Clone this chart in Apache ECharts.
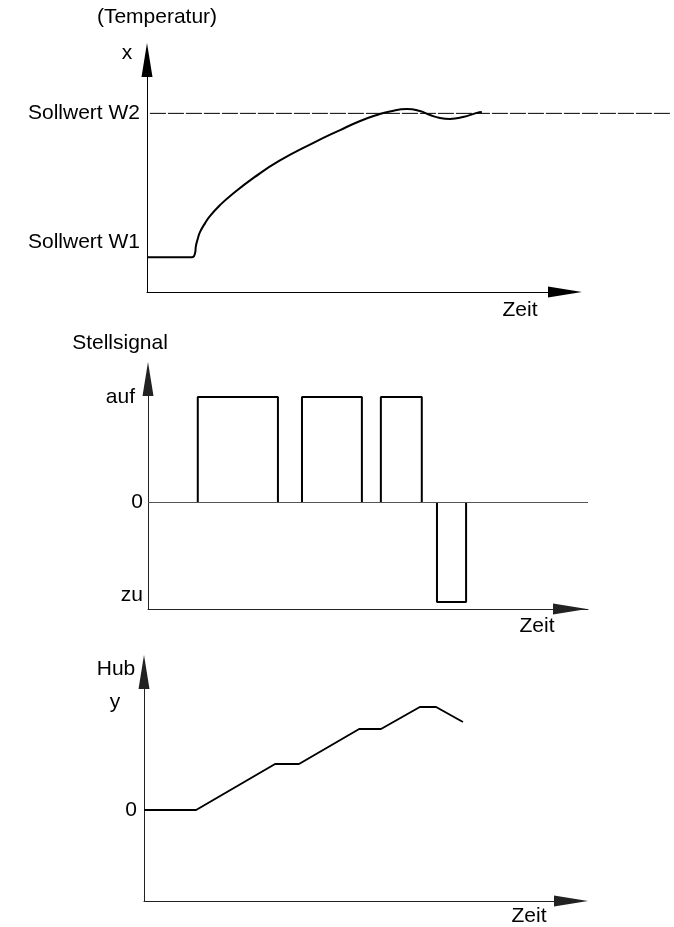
<!DOCTYPE html>
<html><head><meta charset="utf-8">
<script src="https://cdn.jsdelivr.net/npm/echarts@6/dist/echarts.min.js"></script>
<style>html,body{margin:0;padding:0;background:#fff}#c{width:674px;height:927px}</style>
</head><body><div id="c"></div>
<script>
// ---- Panel 1: Temperatur x ----
const W1 = 15, W2 = 77;
const tempTime  = [0, 10.3, 11.0, 11.5, 11.7, 12.2, 12.7, 13.9, 15.1, 17.5, 19.9, 25.8, 31.6, 39.7, 46.2, 51.0, 55.0, 58.1, 62.2, 65.3, 67.7, 70.1, 72.5, 75.6, 78.9, 80.1];
const tempValue = [15, 15, 15.1, 16.8, 19.8, 23.3, 25.9, 29.7, 32.8, 37.5, 41.4, 49.6, 56.5, 64.2, 69.8, 73.7, 76.3, 77.8, 78.9, 78.0, 76.3, 75.0, 74.6, 75.4, 77.2, 77.6];
const w2LineTime = [0.7, 125.1];
const tempLabels = ['Sollwert W1', 'Sollwert W2'];

// ---- Panel 2: Stellsignal ----
const AUF = 1.05, ZU = -1.0;
const pulseStart = [11.8, 36.5, 55.2, 68.5];
const pulseEnd   = [30.8, 50.7, 64.9, 75.4];
const pulseLevel = [AUF, AUF, AUF, ZU];
const signalLabels = ['zu', '0', 'auf'];

// ---- Panel 3: Hub y ----
const hubTime  = [0, 12.2, 30.7, 36.3, 50.4, 55.5, 64.6, 68.4, 74.7];
const hubValue = [0, 0, 4.6, 4.6, 8.1, 8.1, 10.3, 10.3, 8.8];
const hubLabels = ['0'];

const FONT = 'Liberation Sans, Arial, sans-serif';
const FS = 21;
const zip = (a, b) => a.map((v, i) => [v, b[i]]);

function xAx(grid, max, color, show, endOffset) {
  return {
    type: 'value', gridIndex: grid, min: 0, max: max,
    axisLine: { show: show, onZero: false, symbol: ['none', 'triangle'], symbolSize: [11, 34],
      symbolOffset: [0, endOffset || 0], lineStyle: { color: color, width: 1 } },
    axisTick: { show: false }, axisLabel: { show: false }, splitLine: { show: false }
  };
}
function yAx(grid, min, max, color, show, labelVals, labelTexts, rich, margin) {
  return {
    type: 'value', gridIndex: grid, min: min, max: max,
    axisLine: { show: show, onZero: false, symbol: ['none', 'triangle'], symbolSize: [11, 34],
      lineStyle: { color: color, width: 1 } },
    axisTick: { show: false }, splitLine: { show: false },
    axisLabel: labelVals ? {
      customValues: labelVals, margin: margin, color: '#000', fontSize: FS, fontFamily: FONT,
      formatter: function (v) {
        const i = labelVals.indexOf(v);
        return rich && rich.fmt[i] ? rich.fmt[i] : labelTexts[i];
      },
      rich: rich ? rich.styles : undefined
    } : { show: false }
  };
}

const pulseSeries = pulseStart.map((s, i) => ({
  type: 'line', xAxisIndex: 1, yAxisIndex: 1, symbol: 'none', animation: false,
  lineStyle: { color: '#000', width: 2 }, z: 3,
  data: [[s, 0], [s, pulseLevel[i]], [pulseEnd[i], pulseLevel[i]], [pulseEnd[i], 0]],
  markLine: i === 0 ? { silent: true, symbol: ['none', 'none'], label: { show: false },
    lineStyle: { color: '#555', width: 1, type: 'solid' }, data: [{ yAxis: 0 }] } : undefined
}));

const txt = (t, x, y) => ({ type: 'text', x: x, y: y,
  style: { text: t, fill: '#000', font: FS + 'px ' + FONT, align: 'center', verticalAlign: 'middle' } });

const option = {
  animation: false,
  grid: [
    { left: 147, top: 60, width: 418, height: 232 },
    { left: 148, top: 379, width: 440, height: 230 },
    { left: 144, top: 672, width: 427, height: 229 },
    { left: 147, top: 60, width: 523, height: 232 }
  ],
  xAxis: [
    xAx(0, 100, '#000', true),
    xAx(1, 104.3, '#222', true, -18),
    xAx(2, 100, '#222', true),
    xAx(3, 125.1, '#000', false)
  ],
  yAxis: [
    yAx(0, 0, 100, '#000', true, [W1, W2], tempLabels,
      { fmt: ['{a|Sollwert W1}\n{b| }', null],
        styles: { a: { fontSize: FS, fontFamily: FONT, color: '#000' }, b: { fontSize: FS, lineHeight: 30 } } }, 7),
    yAx(1, -1.07, 1.23, '#222', true, [ZU, 0, AUF], signalLabels,
      { fmt: ['{a|zu}\n{b| }', null, '{r|auf}'],
        styles: { a: { fontSize: FS, fontFamily: FONT, color: '#000' }, b: { fontSize: FS, lineHeight: 14 },
          r: { fontSize: FS, fontFamily: FONT, color: '#000', padding: [0, 8, 0, 0] } } }, 5),
    yAx(2, -9.1, 13.8, '#222', true, [0], hubLabels, null, 7),
    yAx(3, 0, 100, '#000', false)
  ],
  series: [
    { type: 'line', xAxisIndex: 0, yAxisIndex: 0, symbol: 'none', smooth: 0.5,
      lineStyle: { color: '#000', width: 2 }, data: zip(tempTime, tempValue), z: 3 },
    { type: 'line', xAxisIndex: 3, yAxisIndex: 3, symbol: 'none',
      lineStyle: { color: '#000', width: 1, type: [16, 2] }, data: w2LineTime.map(t => [t, W2]) },
    ...pulseSeries,
    { type: 'line', xAxisIndex: 2, yAxisIndex: 2, symbol: 'none',
      lineStyle: { color: '#000', width: 2 }, data: zip(hubTime, hubValue), z: 3 }
  ],
  graphic: [
    txt('(Temperatur)', 157, 17),
    txt('x', 127, 53),
    txt('Zeit', 520, 310),
    txt('Stellsignal', 120, 343),
    txt('Zeit', 537, 626),
    txt('Hub', 116, 669),
    txt('y', 115, 702),
    txt('Zeit', 529, 916)
  ]
};
const chart = echarts.init(document.getElementById('c'), null, { renderer: 'canvas' });
chart.setOption(option);
</script></body></html>
